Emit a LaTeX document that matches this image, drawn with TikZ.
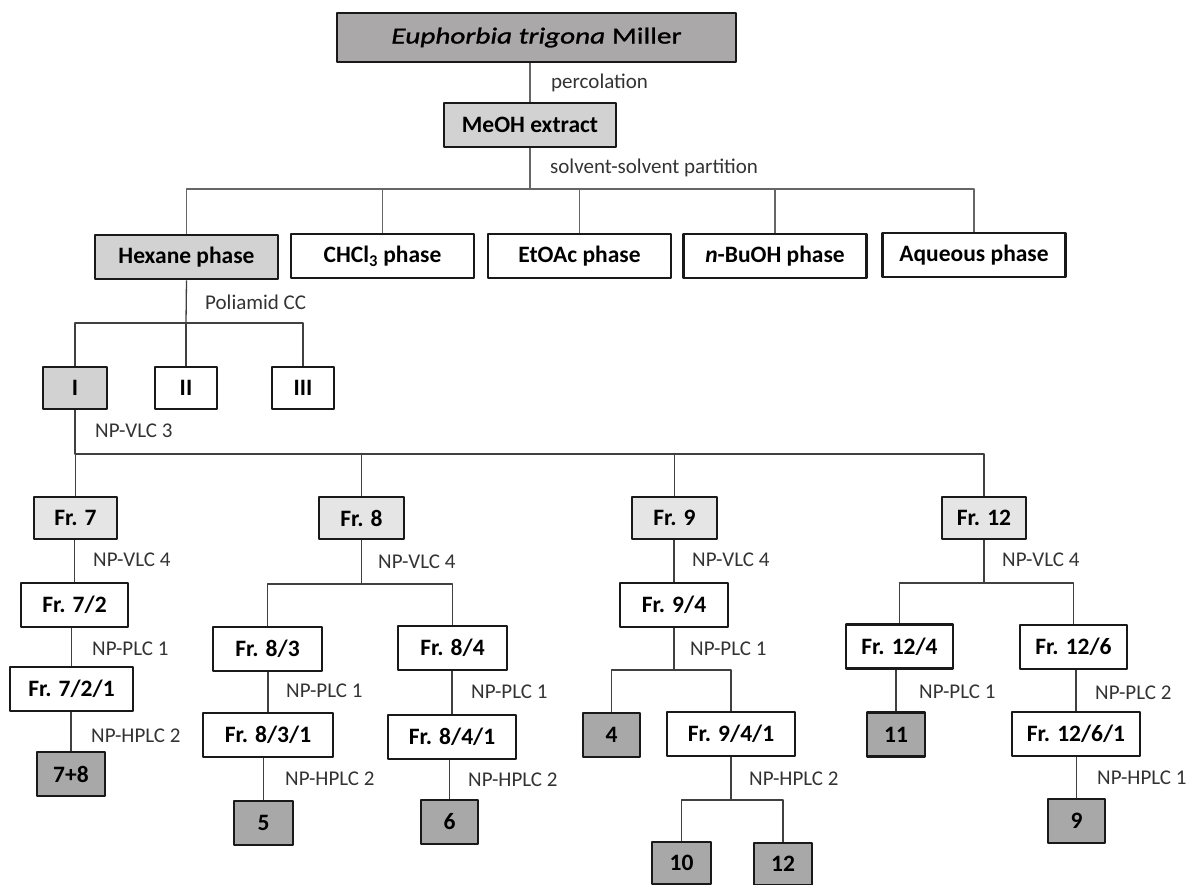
\documentclass[tikz,border=0pt]{standalone}
\usepackage{fontspec}
\setmainfont{Carlito}
\newfontfamily\widefont[FakeStretch=1.27,FakeBold=1.2]{Carlito}
\newcommand\boxfont{\fontsize{23.5}{28}\selectfont\bfseries}
\newcommand\topfont{\widefont\fontsize{23}{28}\selectfont}
\newcommand\lblfont{\fontsize{21}{25}\selectfont}
\definecolor{topfill}{RGB}{170,168,168}
\definecolor{midfill}{RGB}{210,210,210}
\definecolor{frfill}{RGB}{229,229,229}
\definecolor{cmpfill}{RGB}{168,168,168}
\begin{document}
\begin{tikzpicture}[x=1pt,y=-1pt,line join=round,
	box/.style={draw=black!90,line width=2.6pt,inner sep=0pt,font=\boxfont},
	ph/.style={box,minimum width=183pt,minimum height=44pt},
	fr/.style={box,minimum height=44pt},
	cmp/.style={box,fill=cmpfill,minimum height=44pt},
	lbl/.style={anchor=west,inner sep=0pt,font=\lblfont,text=black!80},
	conup/.style={line width=1.8pt,draw=black!60},
	con/.style={line width=1.3pt,draw=black!75}]
	\useasboundingbox (0,0) rectangle (1200,884);
	% extraction and partition
	\node[box,fill=topfill,font=\topfont,minimum width=399pt,minimum height=49pt] (plant) at (536.5,37.5) {\textit{Euphorbia trigona} Miller};
	\node[box,fill=midfill,minimum width=172pt,minimum height=44pt] (meoh) at (530,125) {MeOH extract};
	\node[ph,fill=midfill] (hex) at (186.5,257) {Hexane phase};
	\node[ph] (chl) at (382.5,256) {CHCl\textsubscript{3} phase};
	\node[ph] (eto) at (579.5,256) {EtOAc phase};
	\node[ph] (buo) at (775,256) {\textit{n}-BuOH phase};
	\node[ph] (aq) at (974,255) {Aqueous phase};
	\node[lbl] (lperc) at (551,83) {percolation};
	\node[lbl] (lpart) at (550,168) {solvent-solvent partition};
	\coordinate (s0) at (530,189);
	\draw[conup] (meoh.north) -- (meoh.north |- plant.south);
	\draw[conup] (meoh.south) -- (s0);
	\draw[conup] (hex.north) -- (hex.north |- s0) -- (aq.north |- s0) -- (aq.north);
	\foreach \n in {chl,eto,buo}
		\draw[conup] (\n.north) -- (\n.north |- s0);
	% Poliamid CC
	\node[box,fill=midfill,minimum width=64pt,minimum height=42pt] (fI) at (75,388) {I};
	\node[box,minimum width=62pt,minimum height=42pt] (fII) at (186,388) {II};
	\node[box,minimum width=62pt,minimum height=42pt] (fIII) at (303,388) {III};
	\node[lbl] (lpoli) at (205,302) {Poliamid CC};
	\coordinate (s1) at (186,323);
	\draw[con] (hex.south) -- (s1);
	\draw[con] (fI.north) -- (fI.north |- s1) -- (fIII.north |- s1) -- (fIII.north);
	\draw[con] (fII.north) -- (s1);
	% NP-VLC 3
	\node[lbl] (lvlc) at (95,431) {NP-VLC 3};
	\node[fr,fill=frfill,minimum width=83pt,minimum height=42pt] (f7) at (75.5,518) {Fr. 7};
	\node[fr,fill=frfill,minimum width=85pt,minimum height=42pt] (f8) at (361.5,518) {Fr. 8};
	\node[fr,fill=frfill,minimum width=85pt,minimum height=42pt] (f9) at (674.5,518) {Fr. 9};
	\node[fr,fill=frfill,minimum width=84pt,minimum height=42pt] (f12) at (984,518) {Fr. 12};
	\coordinate (s2) at (75,454);
	\draw[con] (fI.south) -- (fI.south |- s2) -- (f12.north |- s2) -- (f12.north);
	\foreach \n in {f7,f8,f9}
		\draw[con] (\n.north) -- (\n.north |- s2);
	% Fr. 7
	\node[fr,minimum width=107pt] (f72) at (74.5,605) {Fr. 7/2};
	\node[fr,minimum width=123pt] (f721) at (71.5,689) {Fr. 7/2/1};
	\node[cmp,minimum width=68pt] (c78) at (71,774) {7+8};
	\node[lbl] (l7a) at (93,560) {NP-VLC 4};
	\node[lbl] (l7b) at (92,649) {NP-PLC 1};
	\node[lbl] (l7c) at (91,736) {NP-HPLC 2};
	\draw[con] (f72.north) -- (f72.north |- f7.south);
	\draw[con] (f721.north) -- (f721.north |- f72.south);
	\draw[con] (c78.north) -- (c78.north |- f721.south);
	% Fr. 8
	\node[fr,minimum width=109pt] (f83) at (267.5,649) {Fr. 8/3};
	\node[fr,minimum width=130pt] (f831) at (268,735) {Fr. 8/3/1};
	\node[cmp,minimum width=59pt] (c5) at (263.5,823) {5};
	\node[fr,minimum width=109pt] (f84) at (452.5,648) {Fr. 8/4};
	\node[fr,minimum width=128pt] (f841) at (452,737) {Fr. 8/4/1};
	\node[cmp,minimum width=57pt] (c6) at (449.5,822) {6};
	\node[lbl] (l8a) at (378,562) {NP-VLC 4};
	\node[lbl] (l8b) at (286,691) {NP-PLC 1};
	\node[lbl] (l8c) at (285,779) {NP-HPLC 2};
	\node[lbl] (l8d) at (471,692) {NP-PLC 1};
	\node[lbl] (l8e) at (468,780) {NP-HPLC 2};
	\coordinate (s3) at (361.5,584);
	\draw[con] (f8.south) -- (s3);
	\draw[con] (f83.north) -- (f83.north |- s3) -- (f84.north |- s3) -- (f84.north);
	\draw[con] (f831.north) -- (f831.north |- f83.south);
	\draw[con] (c5.north) -- (c5.north |- f831.south);
	\draw[con] (f841.north) -- (f841.north |- f84.south);
	\draw[con] (c6.north) -- (c6.north |- f841.south);
	% Fr. 9
	\node[fr,minimum width=108pt] (f94) at (674,605) {Fr. 9/4};
	\node[cmp,minimum width=57pt] (c4) at (611.5,735) {4};
	\node[fr,minimum width=128pt] (f941) at (731,734) {Fr. 9/4/1};
	\node[cmp,minimum width=59pt,minimum height=42pt] (c10) at (681.5,863) {10};
	\node[cmp,minimum width=58pt,minimum height=42pt] (c12) at (783,864) {12};
	\node[lbl] (l9a) at (692,560) {NP-VLC 4};
	\node[lbl] (l9b) at (690,649) {NP-PLC 1};
	\node[lbl] (l9c) at (749,779) {NP-HPLC 2};
	\coordinate (s4) at (674,670);
	\coordinate (s5) at (731,800);
	\draw[con] (f94.north) -- (f94.north |- f9.south);
	\draw[con] (f94.south) -- (s4);
	\draw[con] (c4.north) -- (c4.north |- s4) -- (f941.north |- s4) -- (f941.north);
	\draw[con] (f941.south) -- (s5);
	\draw[con] (c10.north) -- (c10.north |- s5) -- (c12.north |- s5) -- (c12.north);
	% Fr. 12
	\node[fr,minimum width=107pt] (f124) at (899.5,646.5) {Fr. 12/4};
	\node[fr,minimum width=107pt] (f126) at (1073.5,647) {Fr. 12/6};
	\node[cmp,minimum width=58pt] (c11) at (896,734.5) {11};
	\node[fr,minimum width=128pt] (f1261) at (1076,734) {Fr. 12/6/1};
	\node[cmp,minimum width=57pt] (c9) at (1076.5,821) {9};
	\node[lbl] (l12a) at (1002,560) {NP-VLC 4};
	\node[lbl] (l12b) at (919,692) {NP-PLC 1};
	\node[lbl] (l12c) at (1095,693) {NP-PLC 2};
	\node[lbl] (l12d) at (1097,778) {NP-HPLC 1};
	\coordinate (s6) at (984,583);
	\draw[con] (f12.south) -- (s6);
	\draw[con] (f124.north) -- (f124.north |- s6) -- (f126.north |- s6) -- (f126.north);
	\draw[con] (c11.north) -- (c11.north |- f124.south);
	\draw[con] (f1261.north) -- (f1261.north |- f126.south);
	\draw[con] (c9.north) -- (c9.north |- f1261.south);
\end{tikzpicture}
\end{document}
